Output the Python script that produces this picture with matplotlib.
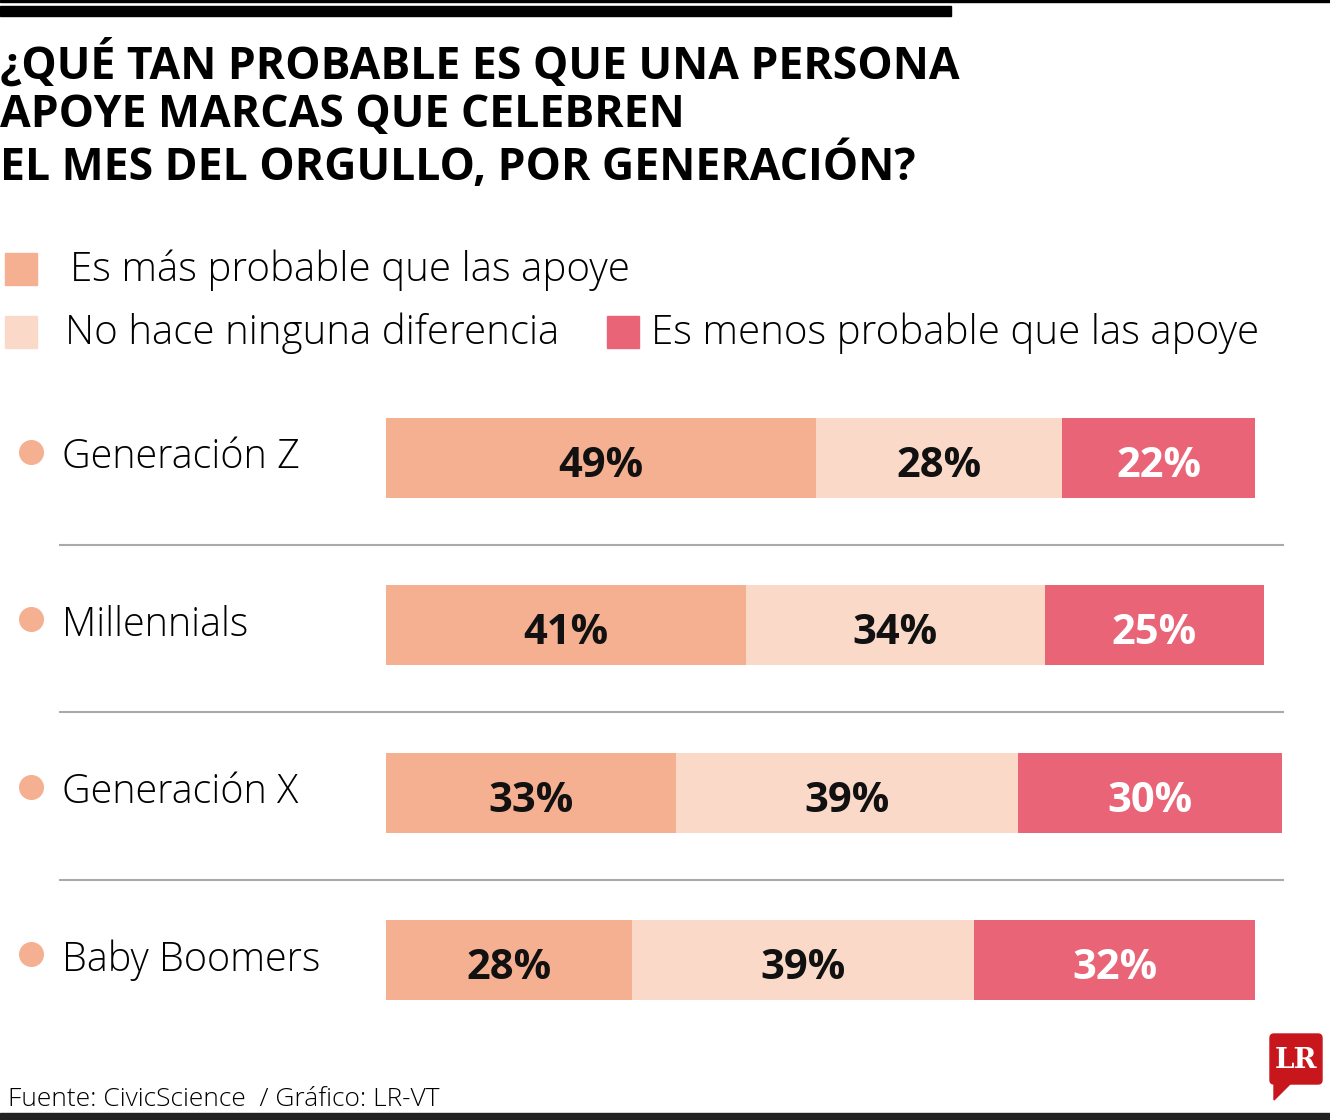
import matplotlib
matplotlib.use("Agg")
import matplotlib.pyplot as plt
import matplotlib.transforms as mtransforms
from matplotlib.patches import Rectangle, FancyBboxPatch, Polygon

# datos
generaciones = ["Generación Z", "Millennials", "Generación X", "Baby Boomers"]
mas_probable = [49, 41, 33, 28]
sin_diferencia = [28, 34, 39, 39]
menos_probable = [22, 25, 30, 32]
series_labels = ["Es más probable que las apoye", "No hace ninguna diferencia",
                 "Es menos probable que las apoye"]

C_MAS = "#F5AF91"
C_IGUAL = "#FBD9C8"
C_MENOS = "#EA6478"
colors = [C_MAS, C_IGUAL, C_MENOS]

W, H = 1330, 1120
fig = plt.figure(figsize=(W / 100, H / 100), dpi=100)
fig.patch.set_facecolor("white")

# capa de fondo en pixeles
bg = fig.add_axes([0, 0, 1, 1], zorder=0)
bg.set_xlim(0, W)
bg.set_ylim(H, 0)
bg.axis("off")

# lineas superiores e inferiores
bg.add_patch(Rectangle((0, 0), W, 1.5, color="black"))
bg.add_patch(Rectangle((0, 6), 951, 10, color="black"))
bg.add_patch(Rectangle((0, 1113), W, 7, color="#222222"))

title = "¿QUÉ TAN PROBABLE ES QUE UNA PERSONA\nAPOYE MARCAS QUE CELEBREN\nEL MES DEL ORGULLO, POR GENERACIÓN?"
bg.text(0, 40, title, fontsize=32, fontweight="bold", family="Open Sans",
        va="top", ha="left", linespacing=1.12, color="black")

# leyenda
leg_pos = [(5, 253, 70), (5, 316, 65), (607, 316, 651)]
for (sx, sy, tx), lab, c in zip(leg_pos, series_labels, colors):
    bg.add_patch(Rectangle((sx, sy), 32, 32, color=c))
    bg.text(tx, sy + 17, lab, fontsize=29, family="Open Sans", fontweight="light",
            va="center", ha="left", color="black")

# barras
ax = fig.add_axes([386 / W, 1 - 1044 / H, 878 / W, 670 / H], zorder=1)
ax.set_xlim(0, 100)
ax.set_ylim(len(generaciones) - 0.5, -0.5)
ax.axis("off")
ax.patch.set_alpha(0)

ypos = range(len(generaciones))
left = [0] * len(generaciones)
for vals, c in zip([mas_probable, sin_diferencia, menos_probable], colors):
    bars = ax.barh(ypos, vals, left=left, height=0.478, color=c, clip_on=False)
    for i, v in enumerate(vals):
        tc = "white" if c == C_MENOS else "#111111"
        ax.text(left[i] + v / 2, i + 0.05, f"{v}%", ha="center", va="center",
                fontsize=30, fontweight="bold", family="Open Sans", color=tc,
                clip_on=False)
    left = [l + v for l, v in zip(left, vals)]

# etiquetas de categoria y separadores
blend = mtransforms.blended_transform_factory(bg.transData, ax.transData)
for i, g in enumerate(generaciones):
    ax.plot([31], [i - 0.035], marker="o", markersize=17, color=C_MAS,
            transform=blend, clip_on=False)
    ax.text(62, i, g, transform=blend, fontsize=28.5, family="Open Sans",
            fontweight="light", va="center", ha="left", color="black")
    if i < len(generaciones) - 1:
        ax.plot([60, 1283], [i + 0.52, i + 0.52], transform=blend, color="#AAAAAA",
                lw=1.5, clip_on=False)

# fuente
bg.text(8, 1100, "Fuente: CivicScience  / Gráfico: LR-VT", fontsize=19,
        family="Open Sans", fontweight="light", va="center", ha="left", color="black")

# logo LR
bg.add_patch(FancyBboxPatch((1270, 1034), 52, 50, boxstyle="round,pad=0,rounding_size=4",
                            color="#C8161D"))
bg.add_patch(Polygon([[1274, 1082], [1292, 1082], [1274, 1100]], color="#C8161D"))
bg.text(1296, 1060, "LR", fontsize=20, fontweight="bold", family="DejaVu Serif",
        color="white", ha="center", va="center")

fig.savefig("out.png", dpi=100, facecolor="white")
